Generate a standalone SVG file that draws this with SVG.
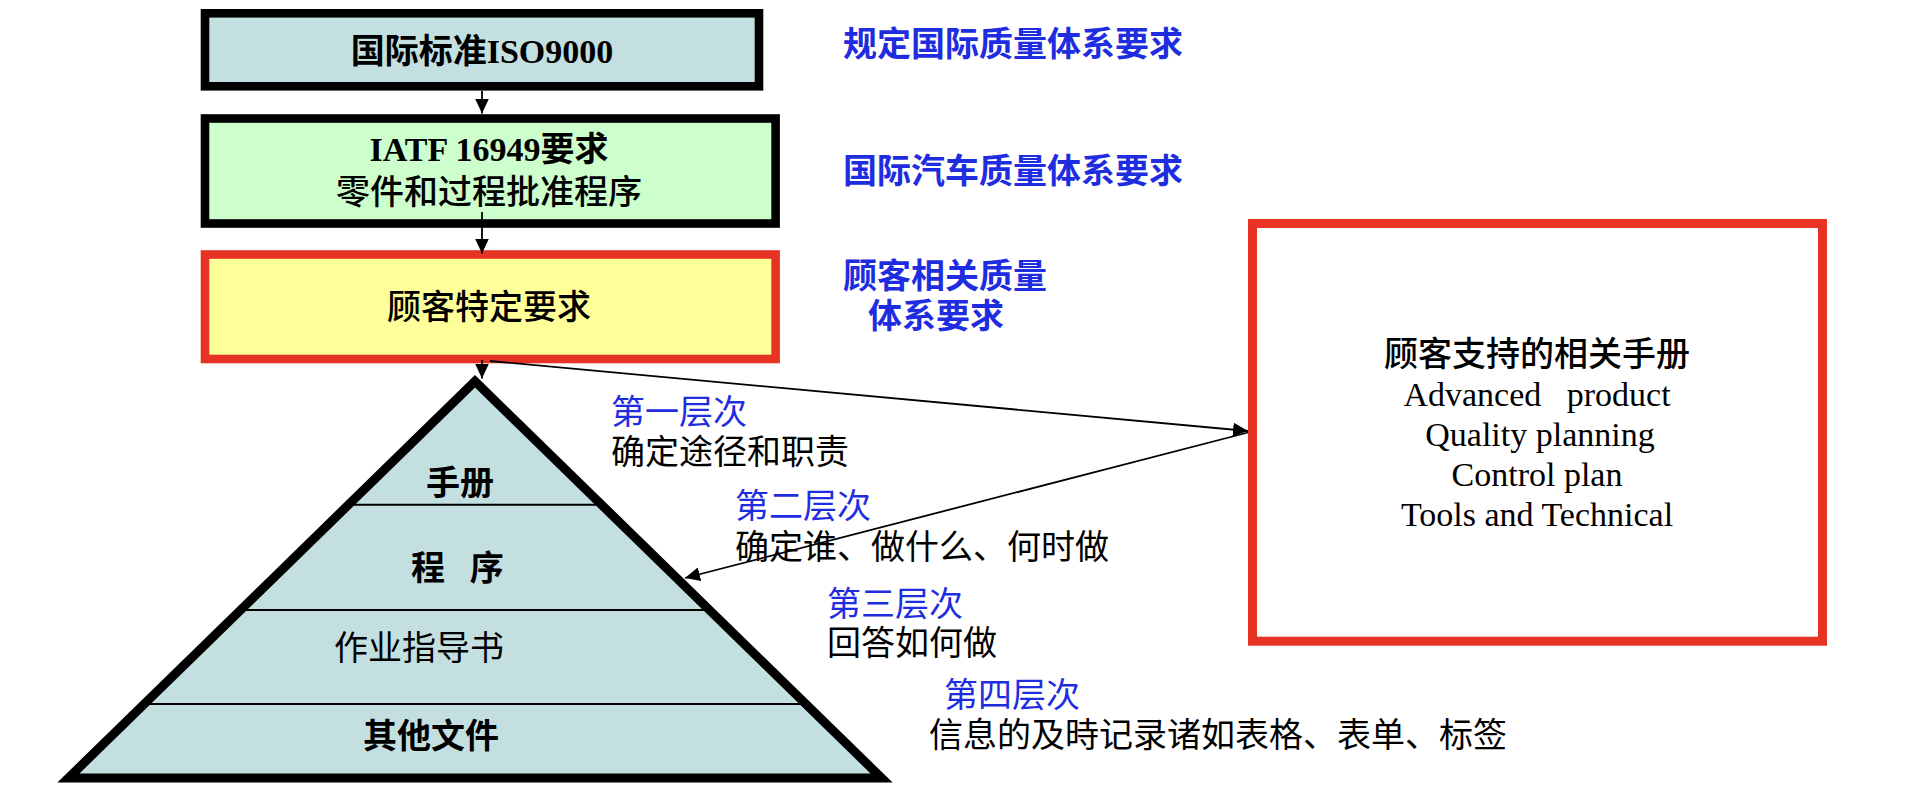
<svg xmlns="http://www.w3.org/2000/svg" width="1908" height="788" viewBox="0 0 1908 788">
<style>
.mix{font-family:"Liberation Serif","Noto Sans CJK SC",serif;font-size:34px;fill:#000}
.cjk{font-family:"Noto Sans CJK SC",sans-serif;font-size:34px;fill:#000}
.b{font-weight:bold}
.m{font-weight:500}
.blue{fill:#1f2de0}
.mid{text-anchor:middle}
.conn{stroke:#000;stroke-width:1.8;fill:none}
</style>
<defs>
<marker id="ah" markerUnits="userSpaceOnUse" markerWidth="16" markerHeight="14" refX="15" refY="7" orient="auto">
<path d="M0,0 L15,7 L0,14 Z" fill="#000"/>
</marker>
</defs>
<rect width="1908" height="788" fill="#fff"/>

<g id="iso">
<rect x="205" y="13.3" width="554" height="73" fill="#c3dfe0" stroke="#000" stroke-width="8.6"/>
<text class="mix b mid" x="482" y="63">国际标准ISO9000</text>
</g>

<g id="iatf">
<rect x="205" y="118.5" width="570.6" height="105" fill="#ccffcc" stroke="#000" stroke-width="8.6"/>
<text class="mix b mid" x="489" y="161">IATF 16949要求</text>
<text class="cjk m mid" x="489" y="204">零件和过程批准程序</text>
</g>

<g id="csr">
<rect x="205" y="254.5" width="570.6" height="104.5" fill="#ffff99" stroke="#e63323" stroke-width="8.6"/>
<text class="cjk m mid" x="489" y="319">顾客特定要求</text>
</g>

<g id="labels">
<text class="cjk b blue" x="843" y="56">规定国际质量体系要求</text>
<text class="cjk b blue" x="843" y="182.5">国际汽车质量体系要求</text>
<text class="cjk b blue" x="843" y="287.5">顾客相关质量</text>
<text class="cjk b blue" x="868" y="327.5">体系要求</text>
</g>

<g id="pyramid">
<polygon points="475,381.3 68.4,778 881.6,778" fill="#c3dfe0"/>
<line x1="348.5" y1="504.7" x2="601.5" y2="504.7" stroke="#000" stroke-width="2"/>
<line x1="240.6" y1="610" x2="709.4" y2="610" stroke="#000" stroke-width="2"/>
<line x1="144.2" y1="704" x2="805.8" y2="704" stroke="#000" stroke-width="2"/>
<polygon points="475,381.3 68.4,778 881.6,778" fill="none" stroke="#000" stroke-width="9"/>
<text class="cjk b" x="426" y="495">手册</text>
<text class="cjk b" x="411" y="579.5" style="white-space:pre;word-spacing:17px">程 序</text>
<text class="cjk" x="334" y="659.5">作业指导书</text>
<text class="cjk b" x="363" y="747.5">其他文件</text>
</g>

<g id="levels">
<text class="cjk blue" x="611" y="423.5">第一层次</text>
<text class="cjk" x="611" y="463.5">确定途径和职责</text>
<text class="cjk blue" x="735" y="517.5">第二层次</text>
<text class="cjk" x="735" y="558.5">确定谁、做什么、何时做</text>
<text class="cjk blue" x="827" y="615.5">第三层次</text>
<text class="cjk" x="827" y="654.5">回答如何做</text>
<text class="cjk blue" x="944" y="706.5">第四层次</text>
<text class="cjk" x="929" y="747">信息的及時记录诸如表格、表单、标签</text>
</g>

<g id="manuals">
<rect x="1252.5" y="223.5" width="570" height="417.7" fill="#fff" stroke="#e63323" stroke-width="9"/>
<text class="mix m mid" x="1537" y="366">顾客支持的相关手册</text>
<text class="mix mid" x="1537" y="405.5" style="white-space:pre">Advanced   product</text>
<text class="mix mid" x="1540" y="445.5">Quality planning</text>
<text class="mix mid" x="1537" y="485.5">Control plan</text>
<text class="mix mid" x="1537" y="525.5">Tools and Technical</text>
</g>

<g id="connectors">
<line class="conn" x1="482" y1="91" x2="482" y2="113.5" marker-end="url(#ah)"/>
<line class="conn" x1="482" y1="212" x2="482" y2="253.5" marker-end="url(#ah)"/>
<line class="conn" x1="482" y1="360" x2="482" y2="378.5" marker-end="url(#ah)"/>
<line class="conn" x1="490" y1="361" x2="1248" y2="431" marker-end="url(#ah)"/>
<line class="conn" x1="1248" y1="432.5" x2="685" y2="578" marker-end="url(#ah)"/>
</g>
</svg>
